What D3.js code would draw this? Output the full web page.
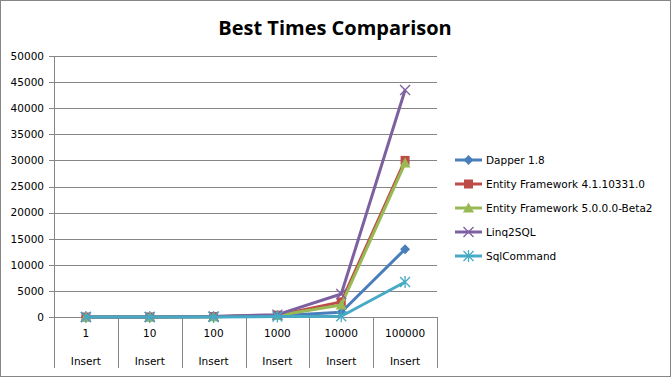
<!DOCTYPE html>
<html><head><meta charset="utf-8">
<script src="https://cdn.jsdelivr.net/npm/d3@7"></script>
<style>body{margin:0;background:#fff}svg{display:block}</style>
</head><body>
<svg id="c" width="671" height="377"></svg>
<script>
const categories = ["1","10","100","1000","10000","100000"];
const groupLabel = "Insert";
const seriesNames = ["Dapper 1.8","Entity Framework 4.1.10331.0","Entity Framework 5.0.0.0-Beta2","Linq2SQL","SqlCommand"];
const dapper = [1, 10, 60, 250, 900, 13000];
const ef4 = [1, 12, 80, 350, 2900, 30000];
const ef5 = [1, 11, 70, 300, 2300, 29500];
const linq2sql = [1, 12, 90, 450, 4400, 43500];
const sqlCommand = [0, 2, 15, 100, 150, 6700];
const yTicks = [0,5000,10000,15000,20000,25000,30000,35000,40000,45000,50000];
const colors = ["#4A7EBB","#BE4B48","#98B954","#7D60A0","#46AAC5"];
const markers = ["diamond","square","triangle","x","star"];
const seriesValues = [dapper, ef4, ef5, linq2sql, sqlCommand];

const svg = d3.select("#c");
svg.append("rect").attr("x",0.5).attr("y",0.5).attr("width",670).attr("height",376)
  .attr("fill","#fff").attr("stroke","#868686");

const L=54, R=437, T=56, B=317;
const x = d3.scaleBand().domain(categories).range([L,R]);
const y = d3.scaleLinear().domain([0,50000]).range([B,T]);
const font = "'DejaVu Sans', Verdana, sans-serif";

svg.append("text").attr("x",335).attr("y",35).attr("text-anchor","middle")
  .attr("font-family","'Open Sans', sans-serif").attr("font-weight","bold").attr("font-size",20)
  .text("Best Times Comparison");

const g = svg.append("g");
g.selectAll("line.grid").data(yTicks).join("line")
  .attr("x1",L-5).attr("x2",R).attr("y1",d=>Math.round(y(d))+0.5).attr("y2",d=>Math.round(y(d))+0.5)
  .attr("stroke","#868686").attr("stroke-width",1);
g.append("line").attr("x1",L+0.5).attr("x2",L+0.5).attr("y1",T).attr("y2",368).attr("stroke","#868686");
const yAxis = d3.axisLeft(y).tickValues(yTicks).tickFormat(d3.format("d")).tickSize(0).tickPadding(10);
const ya = svg.append("g").attr("transform",`translate(${L},0)`).call(yAxis);
ya.select(".domain").remove();
ya.selectAll("text").attr("font-family",font).attr("font-size",10.5).attr("fill","#000");
const bounds = categories.map(c=>x(c)).concat([R]);
g.selectAll("line.sep").data(bounds.slice(1)).join("line")
  .attr("x1",d=>Math.round(d)+0.5).attr("x2",d=>Math.round(d)+0.5).attr("y1",B).attr("y2",368)
  .attr("stroke","#868686");
const xa = svg.append("g").attr("transform",`translate(0,${B})`)
  .call(d3.axisBottom(x).tickSize(0).tickPadding(13));
xa.select(".domain").remove();
xa.selectAll("text").attr("font-family",font).attr("font-size",10.5).attr("fill","#000");
svg.selectAll("text.grp").data(categories).join("text").attr("class","grp")
  .attr("x",d=>x(d)+x.bandwidth()/2).attr("y",365).attr("text-anchor","middle")
  .attr("font-family",font).attr("font-size",10.5).text(groupLabel);

function marker(sel, type, color){
  if(type==="diamond") sel.append("path").attr("d","M0,-5L5,0L0,5L-5,0Z").attr("fill",color);
  else if(type==="square") sel.append("rect").attr("x",-4.5).attr("y",-4.5).attr("width",9).attr("height",9).attr("fill",color);
  else if(type==="triangle") sel.append("path").attr("d","M0,-5.5L5.5,4.5L-5.5,4.5Z").attr("fill",color);
  else if(type==="x") sel.append("path").attr("d","M-5,-5L5,5M-5,5L5,-5").attr("stroke",color).attr("stroke-width",1.3);
  else sel.append("path").attr("d","M-5,-5L5,5M-5,5L5,-5M0,-6L0,6").attr("stroke",color).attr("stroke-width",1.3);
}

const line = d3.line().x((d,i)=>x(categories[i])+x.bandwidth()/2).y(d=>y(d));
seriesValues.forEach((vals,si)=>{
  const sg = svg.append("g");
  sg.append("path").datum(vals).attr("d",line).attr("fill","none")
    .attr("stroke",colors[si]).attr("stroke-width",3).attr("stroke-linejoin","round");
  vals.forEach((v,i)=>{
    const m = sg.append("g").attr("transform",`translate(${x(categories[i])+x.bandwidth()/2},${y(v)})`);
    marker(m, markers[si], colors[si]);
  });
});

seriesNames.forEach((n,i)=>{
  const ly = 160 + i*24;
  const lg = svg.append("g");
  lg.append("line").attr("x1",455).attr("x2",482).attr("y1",ly).attr("y2",ly)
    .attr("stroke",colors[i]).attr("stroke-width",3);
  const m = lg.append("g").attr("transform",`translate(468.5,${ly})`);
  marker(m, markers[i], colors[i]);
  lg.append("text").attr("x",486).attr("y",ly+4).attr("font-family",font).attr("font-size",10.5).text(n);
});
</script>
</body></html>
